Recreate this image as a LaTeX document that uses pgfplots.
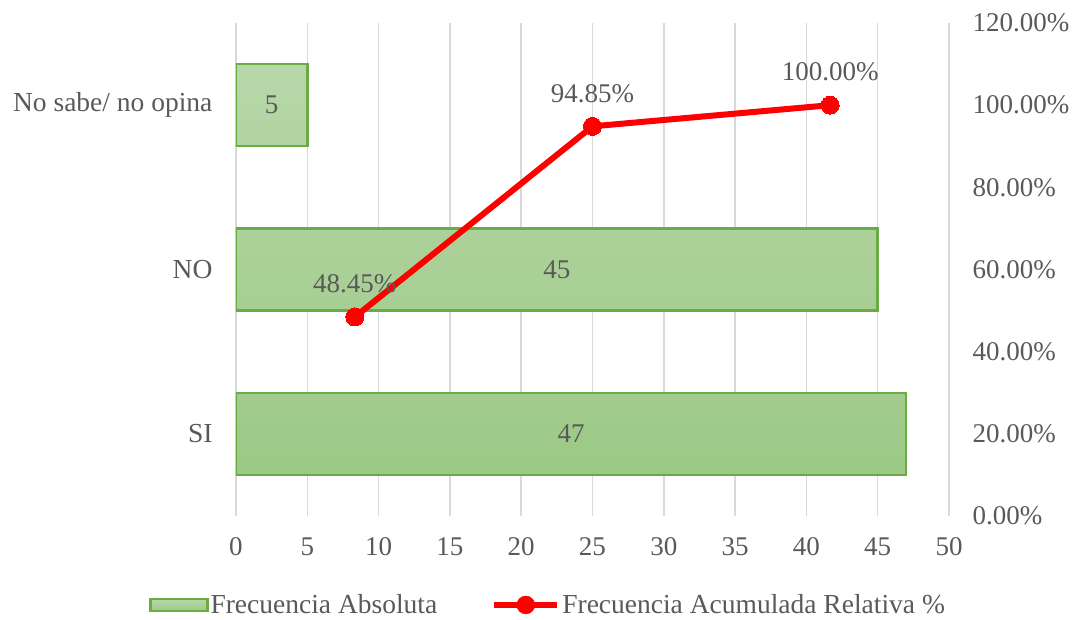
\documentclass[border=0pt]{standalone}
\usepackage{fontspec}
\setmainfont{Liberation Serif}
\usepackage{pgfplots}
\pgfplotsset{compat=1.18}
\definecolor{txt}{HTML}{595959}
\definecolor{gridc}{HTML}{D9D9D9}
\definecolor{bord}{HTML}{6AAB44}
\definecolor{gtop}{HTML}{B7D7A8}
\definecolor{gbot}{HTML}{9CC986}
\definecolor{lred}{HTML}{FF0000}
\begin{document}
\begin{tikzpicture}[font=\fontsize{27}{32}\selectfont]
\useasboundingbox (-236pt,-103pt) rectangle (838pt,516pt);
\begin{axis}[
  at={(0pt,0pt)}, anchor=south west,
  scale only axis, width=713pt, height=493pt,
  xmin=0, xmax=50, ymin=0, ymax=3,
  xtick={0,5,...,50},
  ytick={0.5,1.5,2.5},
  yticklabels={SI, NO\hspace{10pt}, No sabe/ no opina},
  xmajorgrids, grid style={gridc, line width=1.5pt},
  axis line style={draw=none},
  major tick length=0pt,
  tick label style={text=txt, font=\fontsize{27}{32}\selectfont},
  /pgf/number format/assume math mode=true,
  xticklabel style={anchor=base, yshift=-39pt},
  yticklabel style={anchor=east, xshift=-20pt, font=\fontsize{27.5}{32}\selectfont},
  legend columns=2,
  legend style={draw=none, fill=none, at={(0.4375,-0.1805)}, anchor=center,
    font=\fontsize{27.5}{32}\selectfont, text=txt,
    /tikz/every even column/.append style={column sep=52pt},
    cells={anchor=west, inner xsep=1pt}},
]
\addplot[xbar, bar shift=0pt, bar width=82pt, draw=bord, line width=2.5pt,
  top color=gtop, bottom color=gbot,
  legend image code/.code={\draw[draw=bord, line width=2.5pt, top color=gtop, bottom color=gbot] (0pt,-6pt) rectangle (57pt,6pt);}]
  coordinates {(47,0.5) (45,1.5) (5,2.5)};
\addlegendentry{Frecuencia Absoluta}
\addplot[forget plot, draw=none, mark=none, nodes near coords, point meta=explicit symbolic,
  every node near coord/.style={anchor=center, text=txt, font=\fontsize{27}{32}\selectfont}]
  coordinates {(23.5,0.5) [47] (22.5,1.5) [45] (2.5,2.5) [5]};
\addlegendimage{legend image code/.code={\draw[lred, line width=6pt] (0pt,0pt) -- (63pt,0pt); \fill[lred] (31.5pt,0pt) circle (9pt);}}
\addlegendentry{Frecuencia Acumulada Relativa \%}
\end{axis}
\begin{axis}[
  at={(0pt,0pt)}, anchor=south west,
  scale only axis, width=713pt, height=493pt,
  xmin=0, xmax=50, ymin=0, ymax=120,
  axis x line=none,
  axis y line*=right,
  axis line style={draw=none},
  major tick length=0pt,
  ytick={0,20,...,120},
  yticklabels={0.00\%,20.00\%,40.00\%,60.00\%,80.00\%,100.00\%,120.00\%},
  yticklabel style={anchor=west, xshift=20pt, text=txt, font=\fontsize{27}{32}\selectfont},
]
\addplot[lred, line width=6pt, mark=*, mark size=9pt, mark options={fill=lred, draw=lred, line width=0pt},
  nodes near coords, point meta=explicit symbolic,
  every node near coord/.style={anchor=center, yshift=33pt, text=txt, font=\fontsize{27}{32}\selectfont}]
  coordinates {(8.333,48.45) [48.45\%] (25,94.85) [94.85\%] (41.667,100) [100.00\%]};
\end{axis}
\end{tikzpicture}
\end{document}
